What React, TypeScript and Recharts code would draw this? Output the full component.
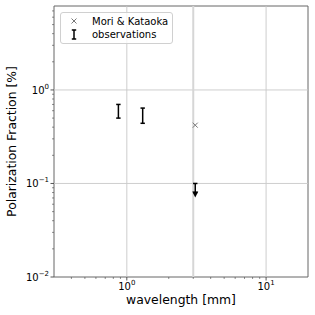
import { ComposedChart, Scatter, XAxis, YAxis, ErrorBar, ReferenceLine, ReferenceArea } from "recharts";

const modelPoints = [{ x: 3.1, y: 0.42 }];
const obsPoints = [
  { x: 0.87, y: 0.6, err: 0.1 },
  { x: 1.3, y: 0.54, err: 0.1 },
];
const limitPoints = [{ x: 3.1, y: 0.1, err: [0.02, 0] }];
const limitArrow = [{ x: 3.1, y: 0.08 }];

const xMajor = [1, 10];
const xMinor = [0.4, 0.5, 0.6, 0.7, 0.8, 0.9, 2, 3, 4, 5, 6, 7, 8, 9];
const yMajor = [0.01, 0.1, 1];
const yMinor = [0.02, 0.03, 0.04, 0.05, 0.06, 0.07, 0.08, 0.09, 0.2, 0.3, 0.4, 0.5, 0.6, 0.7, 0.8, 0.9, 2, 3, 4, 5, 6, 7];
const xDomain = [0.3, 20];
const yDomain = [0.01, 7.9];
const markerLine = 3;

const FONT = "DejaVu Sans";

const expOf = (v: number) => String(Math.round(Math.log10(v))).replace("-", "\u2212");

const XTick = (props: any) => {
  const { x, y, payload } = props;
  const major = xMajor.includes(payload.value);
  return (
    <g>
      <line x1={x} x2={x} y1={y} y2={y + (major ? 3.5 : 2)} stroke="#444" strokeWidth={major ? 0.9 : 0.6} />
      {major && (
        <text x={x} y={y + 13} textAnchor="middle" fontSize={10} fontFamily={FONT} fill="#000">
          10<tspan dy={-5} fontSize={7}>{expOf(payload.value)}</tspan>
        </text>
      )}
    </g>
  );
};

const YTick = (props: any) => {
  const { x, y, payload } = props;
  const major = yMajor.includes(payload.value);
  return (
    <g>
      <line x1={x} x2={x - (major ? 3.5 : 2)} y1={y} y2={y} stroke="#444" strokeWidth={major ? 0.9 : 0.6} />
      {major && (
        <text x={x - 5} y={y + 3.7} textAnchor="end" fontSize={10} fontFamily={FONT} fill="#000">
          10<tspan dy={-5} fontSize={7}>{expOf(payload.value)}</tspan>
        </text>
      )}
    </g>
  );
};

const XTitle = (props: any) => {
  const vb = props.viewBox;
  return (
    <text x={vb.x + vb.width / 2} y={vb.y + 27} textAnchor="middle" fontSize={12.4} fontFamily={FONT} fill="#000">
      wavelength [mm]
    </text>
  );
};

const YTitle = (props: any) => {
  const vb = props.viewBox;
  const cy = vb.y + vb.height / 2;
  return (
    <text x={11} y={cy} transform={`rotate(-90 11 ${cy})`} textAnchor="middle" dominantBaseline="central" fontSize={12.4} fontFamily={FONT} fill="#000">
      Polarization Fraction [%]
    </text>
  );
};

const Cross = (props: any) => {
  const { cx, cy } = props;
  const s = 2.5;
  return (
    <g stroke="#777" strokeWidth={1}>
      <line x1={cx - s} y1={cy - s} x2={cx + s} y2={cy + s} />
      <line x1={cx - s} y1={cy + s} x2={cx + s} y2={cy - s} />
    </g>
  );
};

const Nothing = () => <g />;

const ArrowDown = (props: any) => {
  const { cx, cy } = props;
  return <path d={`M${cx - 3},${cy - 1} L${cx + 3},${cy - 1} L${cx},${cy + 5} Z`} fill="#000" />;
};

export default function App() {
  return (
    <div style={{ position: "absolute", left: 0, top: 0, width: 315, height: 315, background: "#fff" }}>
      <ComposedChart width={315} height={315} margin={{ top: 6, right: 7, left: 0, bottom: 0 }}>
        <XAxis
          type="number"
          dataKey="x"
          scale="log"
          domain={xDomain}
          allowDataOverflow
          ticks={[...xMinor, ...xMajor]}
          interval={0}
          tick={<XTick />}
          tickLine={false}
          tickSize={0}
          tickMargin={0}
          axisLine={false}
          height={38}
          label={<XTitle />}
        />
        <YAxis
          type="number"
          dataKey="y"
          scale="log"
          domain={yDomain}
          allowDataOverflow
          ticks={[...yMinor, ...yMajor]}
          interval={0}
          tick={<YTick />}
          tickLine={false}
          tickSize={0}
          tickMargin={0}
          axisLine={false}
          width={54}
          label={<YTitle />}
        />
        {xMajor.map((v) => (
          <ReferenceLine key={`gx${v}`} x={v} stroke="#c8c8c8" strokeWidth={0.9} />
        ))}
        {yMajor.slice(1).map((v) => (
          <ReferenceLine key={`gy${v}`} y={v} stroke="#c8c8c8" strokeWidth={0.9} />
        ))}
        <ReferenceLine x={markerLine} stroke="#d6d6d6" strokeWidth={2} />
        <ReferenceArea x1={xDomain[0]} x2={xDomain[1]} y1={yDomain[0]} y2={yDomain[1]} fill="none" stroke="#666" strokeWidth={1} />
        <Scatter data={modelPoints} shape={<Cross />} isAnimationActive={false} />
        <Scatter data={obsPoints} shape={<Nothing />} isAnimationActive={false}>
          <ErrorBar dataKey="err" direction="y" width={2.2} stroke="#000" strokeWidth={1.5} isAnimationActive={false} />
        </Scatter>
        <Scatter data={limitPoints} shape={<Nothing />} isAnimationActive={false}>
          <ErrorBar dataKey="err" direction="y" width={2.2} stroke="#000" strokeWidth={1.5} isAnimationActive={false} />
        </Scatter>
        <Scatter data={limitArrow} shape={<ArrowDown />} isAnimationActive={false} />
      </ComposedChart>
      <div
        style={{
          position: "absolute",
          left: 60,
          top: 12,
          width: 111,
          height: 30,
          border: "1px solid #d0d0d0",
          borderRadius: 3,
          background: "rgba(255,255,255,0.8)",
        }}
      >
        <svg width={111} height={30} style={{ position: "absolute", left: 0, top: 0 }}>
          <g stroke="#777" strokeWidth={1}>
            <line x1={10.5} y1={5.5} x2={15.5} y2={10.5} />
            <line x1={10.5} y1={10.5} x2={15.5} y2={5.5} />
          </g>
          <g stroke="#000" strokeWidth={1.5}>
            <line x1={13} y1={17} x2={13} y2={26} />
            <line x1={10.8} y1={17} x2={15.2} y2={17} />
            <line x1={10.8} y1={26} x2={15.2} y2={26} />
          </g>
          <text x={31} y={11.5} fontSize={10} fontFamily={FONT} fill="#000">Mori &amp; Kataoka</text>
          <text x={31} y={25} fontSize={10} fontFamily={FONT} fill="#000">observations</text>
        </svg>
      </div>
    </div>
  );
}
